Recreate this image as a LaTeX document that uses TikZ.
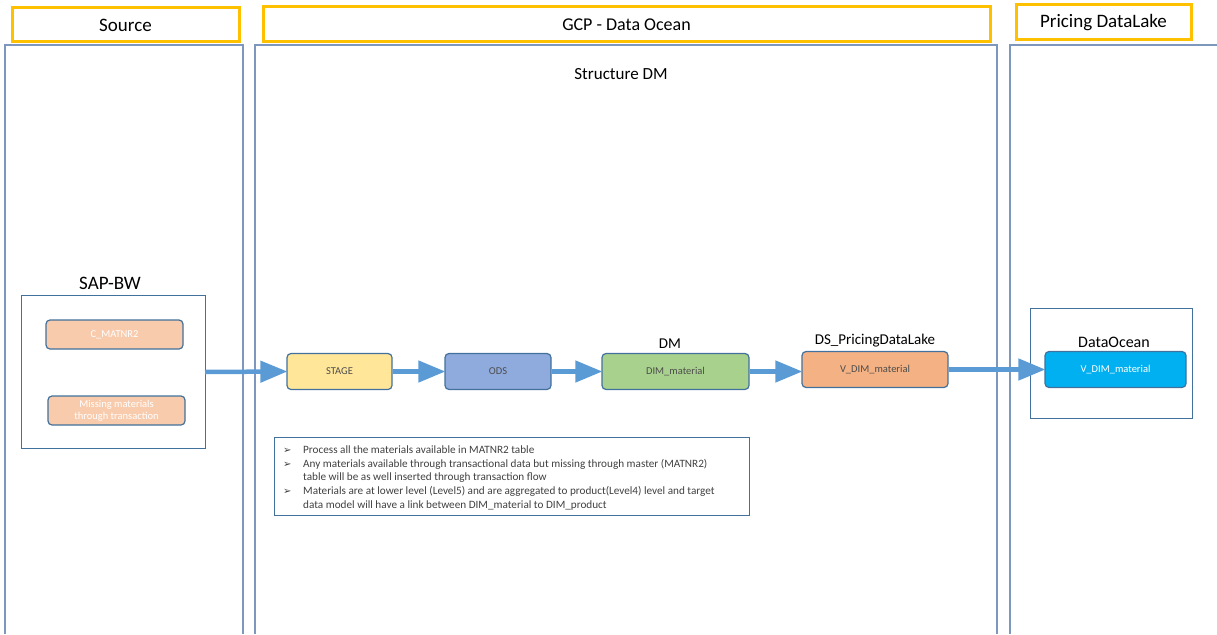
\documentclass[tikz,border=0pt]{standalone}
\usepackage{fontspec}
\setmainfont{Carlito}
\newfontfamily\symbolfont{DejaVu Sans}
\usetikzlibrary{arrows.meta}
\definecolor{laneorange}{HTML}{FFC000}
\definecolor{laneblue}{HTML}{7D98BC}
\definecolor{boxline}{HTML}{41719C}
\definecolor{flowblue}{HTML}{5B9BD5}
\newcommand{\notebullet}{\makebox[20pt][l]{\symbolfont\fontsize{10}{12}\selectfont ➢}}
\tikzset{
  lane title/.style={
    draw=laneorange,
    line width=3pt,
    fill=white,
    font=\fontsize{19}{22}\selectfont,
    inner sep=0pt,
  },
  lane/.style={
    draw=laneblue,
    line width=1.4pt,
  },
  step box/.style={
    rounded corners=4pt,
    draw=boxline,
    line width=1.2pt,
    minimum height=36pt,
    text=black!70,
    font=\fontsize{10.5}{12}\selectfont,
    inner sep=0pt,
  },
  flow/.style={
    draw=flowblue,
    line width=4.5pt,
    -{Triangle[length=27pt,width=21pt]},
    shorten >=-1pt,
  },
  caption/.style={
    font=\fontsize{15}{18}\selectfont,
    inner sep=1pt,
  },
}

\begin{document}
\begin{tikzpicture}[x=1pt, y=-1pt]
        \useasboundingbox (0,0) rectangle (1217,634);

        % lanes
        \draw[lane] (5,634) -- (5,45) -- (243,45) -- (243,634);
        \draw[lane] (255,634) -- (255,45) -- (997,45) -- (997,634);
        \draw[lane] (1010,634) -- (1010,45) -- (1222,45);

        \node[lane title, minimum width=227pt, minimum height=34pt] (src)  at (125.5,25)  {Source};
        \node[lane title, minimum width=727pt, minimum height=35pt, font=\fontsize{18}{21}\selectfont] (gcp) at (626.5,24.5) {GCP - Data Ocean};
        \node[lane title, minimum width=175pt, minimum height=35pt] (lake) at (1103.5,22.5) {Pricing DataLake};

        \node[caption, font=\fontsize{17}{20}\selectfont] (sdm) at (621,74) {Structure DM};

        % source
        \draw[draw=boxline, line width=1pt] (21,295) rectangle (205,448);
        \node[caption, font=\fontsize{19}{22}\selectfont] (sapbw) at (110,283) {SAP-BW};
        \coordinate (sapout) at (205,372);
        \node[step box, fill={rgb,255:red,248;green,203;blue,173}, text=white, minimum width=137pt, minimum height=29pt] (cmat) at (114.5,334.5) {C\_MATNR2};
        \node[step box, fill={rgb,255:red,248;green,203;blue,173}, text=white, minimum width=137pt, minimum height=29pt, align=center] (miss) at (116.5,410.5) {Missing materials\\through transaction};

        % data ocean
        \node[step box, fill={rgb,255:red,255;green,230;blue,153}, minimum width=105pt] (stage) at (339.5,371.5) {STAGE};
        \node[step box, fill={rgb,255:red,143;green,170;blue,220}, minimum width=106pt] (ods)   at (498,371.5)   {ODS};
        \node[step box, fill={rgb,255:red,169;green,209;blue,142}, minimum width=147pt] (dim)   at (675.5,371.5) {DIM\_material};
        \node[step box, fill={rgb,255:red,244;green,177;blue,131}, minimum width=146pt] (vdim)  at (875,369.5)   {V\_DIM\_material};
        \node[caption] (dmlbl) at (670,344) {DM};
        \node[caption] (dslbl) at (875,341) {DS\_PricingDataLake};

        % pricing datalake
        \draw[draw=boxline, line width=1pt] (1030,308) rectangle (1192,418);
        \node[caption, font=\fontsize{16}{19}\selectfont] (oclbl) at (1114,342) {DataOcean};
        \node[step box, fill={rgb,255:red,0;green,176;blue,240}, text=white, minimum width=141pt] (vdimo) at (1115.5,369.5) {V\_DIM\_material};

        % notes
        \node[draw=boxline, line width=1pt, minimum width=475pt, minimum height=78pt, inner sep=0pt] (notes) at (511.5,476) {};
        \node[anchor=north west, align=left, inner sep=0pt, text=black!75, font=\fontsize{11.2}{13.7}\selectfont] (notetext) at (283,445.5)
        {
          \notebullet Process all the materials available in MATNR2 table\\
          \makebox[20pt][l]{}Any materials available through transactional data but missing through master (MATNR2)\\[-13.7pt]
          \notebullet\\
          \makebox[20pt][l]{}table will be as well inserted through transaction flow\\
          \notebullet Materials are at lower level (Level5) and are aggregated to product(Level4) level and target\\
          \makebox[20pt][l]{}data model will have a link between DIM\_material to DIM\_product
        };

        % flow
        \draw[flow] (sapout) -- (stage.west);
        \draw[flow] (stage.east) -- (ods.west);
        \draw[flow] (ods.east) -- (dim.west);
        \draw[flow] (dim.east) -- (vdim.west |- dim.east);
        \draw[flow] (vdim.east) -- (vdimo.west);
\end{tikzpicture}
\end{document}
